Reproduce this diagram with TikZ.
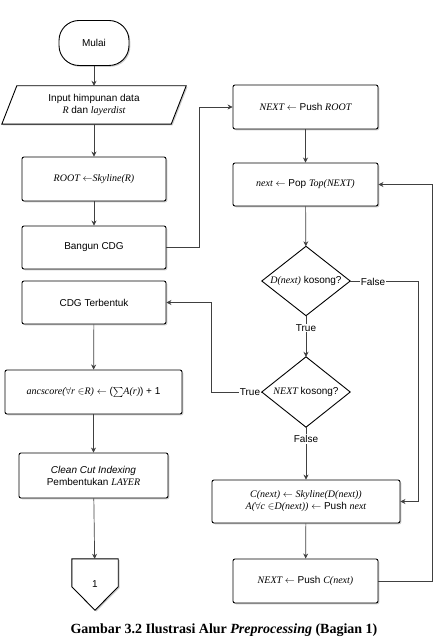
\documentclass[tikz,border=0pt]{standalone}
\usepackage{fontspec}
\setmainfont{Liberation Sans}
\newfontfamily\serifit{Liberation Serif}
\newcommand{\vn}[1]{{\serifit\itshape #1}}
\usetikzlibrary{positioning, shapes.geometric, arrows.meta}
\usetikzlibrary{backgrounds, shadows}

\begin{document}
\begin{tikzpicture} [x=1pt, y=-1pt, font=\fontsize{10}{12}\selectfont,
  shade/.style={drop shadow={shadow xshift=1.3pt, shadow yshift=-1.3pt, fill=black!40}},
  box/.style={rectangle, draw, line width=0.9pt, rounded corners=2pt, fill=white, align=center, shade},
  flow/.style={draw=black!75, line width=0.7pt, -{Stealth[length=5pt, width=5pt]}},
  lbl/.style={fill=white, inner sep=1pt}]
\useasboundingbox (0,0) rectangle (435,644);
% kolom kiri
\node[box, rounded corners=20pt, minimum width=70pt, minimum height=45pt] (mulai) at (94,43) {Mulai};
\node[minimum width=184pt, minimum height=38pt, align=center] (input) at (94,105) {Input himpunan data\\\vn{R} dan \vn{layerdist}};
\node[box, minimum width=144pt, minimum height=44pt] (root) at (94,179) {\vn{ROOT} $\leftarrow$\vn{Skyline(R)}};
\node[box, minimum width=144pt, minimum height=43pt] (bangun) at (94,247.5) {Bangun CDG};
\node[box, minimum width=144pt, minimum height=43pt] (cdg) at (94,302.5) {CDG Terbentuk};
\node[box, minimum width=177pt, minimum height=44pt] (anc) at (93.5,392) {\vn{ancscore(}$\forall$\vn{r} $\in$\vn{R)} $\leftarrow$ ($\sum$\vn{A(r)}) + 1};
\node[box, minimum width=149pt, minimum height=45pt] (clean) at (93.5,475.5) {\textit{Clean Cut Indexing}\\Pembentukan \vn{LAYER}};
\node[minimum width=46pt, minimum height=51pt] (hal) at (95,584.5) {1};
% kolom kanan
\node[box, minimum width=145pt, minimum height=44pt] (pushroot) at (305.5,107) {\vn{NEXT} $\leftarrow$ Push \vn{ROOT}};
\node[box, minimum width=145pt, minimum height=43pt] (pop) at (305.5,184.5) {\vn{next} $\leftarrow$ Pop \vn{Top(NEXT)}};
\node[inner sep=0pt, minimum width=88pt, minimum height=69pt] (dnext) at (306,281) {\vn{D(next)} kosong?};
\node[inner sep=0pt, minimum width=88pt, minimum height=70pt] (dnull) at (306,392) {\vn{NEXT} kosong?};
\node[box, minimum width=188pt, minimum height=43pt] (big) at (306,501.5) {\vn{C(next)} $\leftarrow$ \vn{Skyline(D(next))}\\\vn{A(}$\forall$\vn{c} $\in$\vn{D(next))} $\leftarrow$ Push \vn{next}};
\node[box, minimum width=145pt, minimum height=44pt] (pushc) at (305.5,581) {\vn{NEXT} $\leftarrow$ Push \vn{C(next)}};
\begin{scope}[on background layer]
\draw[line width=0.9pt, fill=white, shade] ([xshift=15pt]input.north west) -- (input.north east) -- ([xshift=-15pt]input.south east) -- (input.south west) -- cycle;
\draw[line width=0.9pt, fill=white, shade] (hal.north west) -- (hal.north east) -- ([yshift=-28pt]hal.north east) -- (hal.south) -- ([yshift=-28pt]hal.north west) -- cycle;
\draw[line width=0.9pt, fill=white] (dnext.north) -- (dnext.east) -- (dnext.south) -- (dnext.west) -- cycle;
\draw[line width=0.9pt, fill=white] (dnull.north) -- (dnull.east) -- (dnull.south) -- (dnull.west) -- cycle;
\end{scope}
\draw[flow] (mulai) -- (input);
\draw[flow] (input) -- (root);
\draw[flow] (root) -- (bangun);
\draw[flow] (cdg) -- (anc);
\draw[flow] (anc) -- (clean);
\draw[flow] (clean) -- (hal);
\draw[flow] (bangun.east) -- ++(33,0) |- (pushroot.west);
\draw[flow] (pushroot) -- (pop);
\draw[flow] (pop) -- (dnext);
\draw[flow] (dnext) -- (dnull);
\draw[flow] (dnext.east) -- ++(68,0) |- (big.east);
\draw[flow] (dnull.west) -- ++(-50,0) |- (cdg.east);
\draw[flow] (dnull) -- (big);
\draw[flow] (big) -- (pushc);
\draw[flow] (pushc.east) -- ++(54,0) |- (pop.east);
\node[lbl] (f1) at (373,282) {False};
\node[lbl] (t1) at (306,328) {True};
\node[lbl] (t2) at (250,392) {True};
\node[lbl] (f2) at (306,439) {False};
\node[font=\fontsize{14}{16}\selectfont\serifit\bfseries] (judul) at (224,630) {Gambar 3.2 Ilustrasi Alur \textit{Preprocessing} (Bagian 1)};
\end{tikzpicture}
\end{document}
